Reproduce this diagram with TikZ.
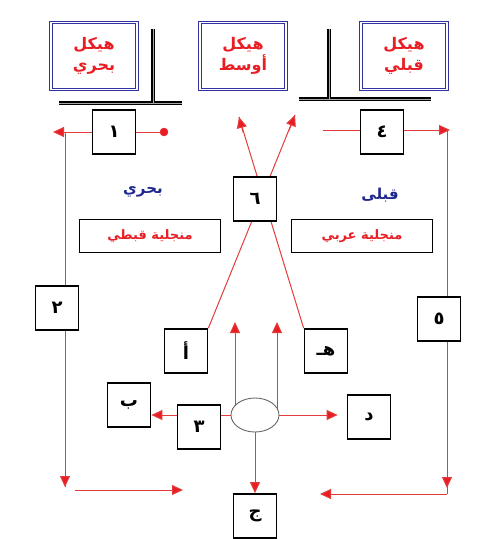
\documentclass[tikz,border=0pt]{standalone}
\usepackage{fontspec}
\newfontfamily\arabicfont[Script=Arabic]{DejaVu Sans}
\TeXXeTstate=1
\usetikzlibrary{arrows.meta,shapes.geometric,backgrounds,calc}
\definecolor{myred}{RGB}{232,30,36}
\definecolor{linered}{RGB}{228,60,60}
\definecolor{templeblue}{RGB}{50,50,160}
\definecolor{textblue}{RGB}{30,40,140}
\begin{document}
\begin{tikzpicture}[x=1pt,y=-1pt,
  numbox/.style={draw=black,line width=1.7pt,fill=white,minimum width=43pt,minimum height=44pt,inner sep=0pt,font=\arabicfont\bfseries\fontsize{18}{20}\selectfont},
  temple/.style={draw=templeblue,double=white,double distance=1.3pt,line width=1.1pt,fill=white,minimum width=86pt,minimum height=67pt,inner sep=0pt,align=center,text=myred,font=\arabicfont\bfseries\fontsize{16}{21}\selectfont},
  namebox/.style={draw=black,line width=1.4pt,fill=white,minimum width=141pt,minimum height=33pt,inner sep=0pt,text=myred,font=\arabicfont\bfseries\fontsize{13}{15}\selectfont},
  bluelabel/.style={text=textblue,font=\arabicfont\bfseries\fontsize{15}{17}\selectfont,inner sep=0pt},
  wall/.style={draw=black,double=gray!70,double distance=0.9pt,line width=1.1pt},
  redline/.style={draw=linered,line width=1pt},
  redarrow/.style={redline,-{Triangle[length=11pt,width=10pt,fill=myred]}},
  reddot/.style={circle,fill=myred,draw=myred,minimum size=8pt,inner sep=0pt}]
\useasboundingbox (0,0) rectangle (477,539);

% temples
\node[temple] (tb) at (94,56) {\beginR هيكل\endR\\\beginR بحري\endR};
\node[temple] (tm) at (243,56) {\beginR هيكل\endR\\\beginR أوسط\endR};
\node[temple] (tq) at (404,56) {\beginR هيكل\endR\\\beginR قبلي\endR};

% walls
\draw[wall] (59,103) -- (182,103);
\draw[wall] (153,29) -- (153,103);
\draw[wall] (299,99) -- (431,99);
\draw[wall] (329,29) -- (329,99);

% numbered boxes
\node[numbox] (b1) at (114,132) {\beginR ١\endR};
\node[numbox] (b2) at (57,308) {\beginR ٢\endR};
\node[numbox] (b3) at (199,427) {\beginR ٣\endR};
\node[numbox] (b4) at (382,132) {\beginR ٤\endR};
\node[numbox] (b5) at (439,319) {\beginR ٥\endR};
\node[numbox] (b6) at (255,199) {\beginR ٦\endR};
\node[numbox] (ba) at (186,351) {\beginR أ\endR};
\node[numbox] (bh) at (326,351) {\beginR هـ\endR};
\node[numbox] (bb) at (129,405) {\beginR ب\endR};
\node[numbox] (bd) at (369,417) {\beginR د\endR};
\node[numbox] (bj) at (255,516) {\beginR ج\endR};

% labels
\node[bluelabel] (lb) at (143,192) {\beginR بحري\endR};
\node[bluelabel] (lq) at (380,195) {\beginR قبلى\endR};
\node[namebox] (nq) at (150,236) {\beginR منجلية قبطي\endR};
\node[namebox] (na) at (362,236) {\beginR منجلية عربي\endR};

% ellipse
\node[ellipse,draw=gray!80!black,line width=0.9pt,fill=white,minimum width=48pt,minimum height=34pt,inner sep=0pt] (ell) at (255,415) {};
\node[reddot] (dot1) at (164,132) {};

% free ends
\coordinate (c1) at (53,132);
\coordinate (c2t) at (65,132);
\coordinate (c2b) at (65,487);
\coordinate (c3a) at (75,490);
\coordinate (c3b) at (183,490);
\coordinate (c4a) at (323,130);
\coordinate (c4b) at (450,130);
\coordinate (c5t) at (447,130);
\coordinate (c5b) at (447,488);
\coordinate (c6a) at (447,494);
\coordinate (c6b) at (320,494);
\coordinate (xa) at (239,117);
\coordinate (xb) at (295,115);
\coordinate (u1) at (235,322);
\coordinate (u2) at (277,322);

\begin{scope}[on background layer]
\fill[white] (0,0) rectangle (477,539);
\draw[redline] (c2t) -- (c2b);
\draw[redline] (c5t) -- (c6a);
\draw[redline] (ba.north east) -- (xb);
\draw[redline] (bh.north west) -- (xa);
\draw[redline] (u1 |- ell.center) -- ($(u1)+(0,12)$);
\draw[redline] (u2 |- ell.center) -- ($(u2)+(0,12)$);
\end{scope}

\draw[redarrow] (b1.west |- c1) -- (c1);
\draw[redline] (b1.east) -- (dot1);
\draw[redarrow] ($(c2b)+(0,-12)$) -- (c2b);
\draw[redarrow] (c3a) -- (c3b);
\draw[redline] (c4a) -- (c4a -| b4.west);
\draw[redarrow] (c4b -| b4.east) -- (c4b);
\draw[redarrow] ($(c5b)+(0,-12)$) -- (c5b);
\draw[redarrow] (c6a) -- (c6b);
\draw[redarrow] ($(xb)+(-6,15.4)$) -- (xb);
\draw[redarrow] ($(xa)+(4.2,15.6)$) -- (xa);
\draw[redarrow] ($(u1)+(0,12)$) -- (u1);
\draw[redarrow] ($(u2)+(0,12)$) -- (u2);
\draw[redline] (ell.west) -- (ell.west -| b3.east);
\draw[redarrow] (ell.west -| b3.west) -- (ell.west -| bb.east);
\draw[redarrow,shorten >=9pt] (ell.east) -- (ell.east -| bd.west);
\draw[redarrow] (ell.south) -- (bj.north);
\end{tikzpicture}
\end{document}
